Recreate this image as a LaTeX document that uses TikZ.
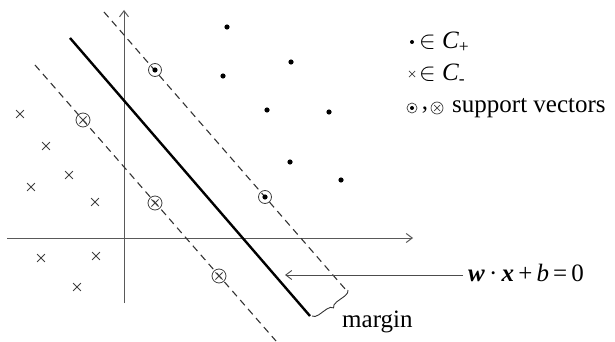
\documentclass[tikz,border=0pt]{standalone}
\usepackage{fontspec}
\setmainfont{Liberation Serif}
\usetikzlibrary{arrows.meta,shapes.misc,decorations.pathreplacing}
\begin{document}
\begin{tikzpicture}[x=1pt,y=-1pt,
  every node/.style={font=\fontsize{25}{30}\selectfont},
  dotn/.style={circle,fill=black,inner sep=0pt,minimum size=5.2pt},
  crossn/.style={cross out,draw=black!75,line width=0.8pt,inner sep=0pt,minimum size=7pt},
  svp/.style={circle,draw=black!75,line width=0.8pt,inner sep=0pt,minimum size=13pt,
     path picture={\fill[black] (path picture bounding box.center) circle (2.6pt);}},
  svm/.style={circle,draw=black!75,line width=0.8pt,inner sep=0pt,minimum size=14pt,
     path picture={\draw[black!75,line width=0.8pt]
       ([shift={(-3.6pt,-3.6pt)}]path picture bounding box.center) -- ++(7.2pt,7.2pt)
       ([shift={(-3.6pt,3.6pt)}]path picture bounding box.center) -- ++(7.2pt,-7.2pt);}},
  ldot/.style={circle,fill=black,inner sep=0pt,minimum size=4pt},
  lcross/.style={cross out,draw=black!75,line width=0.7pt,inner sep=0pt,minimum size=5.5pt},
  lsvp/.style={circle,draw=black!75,line width=0.7pt,inner sep=0pt,minimum size=10pt,
     path picture={\fill[black] (path picture bounding box.center) circle (2pt);}},
  lsvm/.style={circle,draw=black!75,line width=0.7pt,inner sep=0pt,minimum size=12pt,
     path picture={\draw[black!75,line width=0.7pt]
       ([shift={(-3pt,-3pt)}]path picture bounding box.center) -- ++(6pt,6pt)
       ([shift={(-3pt,3pt)}]path picture bounding box.center) -- ++(6pt,-6pt);}},
  axis/.style={draw=black!65,line width=1pt,-{Straight Barb[length=6pt,width=9pt]}},
  margline/.style={draw=black!80,line width=1.1pt,dash pattern=on 7pt off 5pt},
  hyper/.style={draw=black,line width=2.4pt},
  txt/.style={inner sep=0pt,anchor=west}
]
\useasboundingbox (0,0) rectangle (615,342);
% axes
\coordinate (xs) at (7,238); \coordinate (xe) at (413,238);
\coordinate (ys) at (124,303); \coordinate (ye) at (124,10);
\draw[axis] (xs) -- (xe);
\draw[axis] (ys) -- (ye);
% lines
\coordinate (h1) at (70,38); \coordinate (h2) at (310,316);
\coordinate (u1) at (104,12); \coordinate (u2) at (346,290);
\coordinate (l1) at (35,65); \coordinate (l2) at (276,341);
\draw[margline] (u1) -- (u2);
\draw[margline] (l1) -- (l2);
\draw[hyper] (h1) -- (h2);
% positive points
\node[dotn] (p1) at (227,27) {};
\node[dotn] (p2) at (291,62) {};
\node[dotn] (p3) at (223,76) {};
\node[dotn] (p4) at (267,110) {};
\node[dotn] (p5) at (329,112) {};
\node[dotn] (p6) at (290,162) {};
\node[dotn] (p7) at (341,180) {};
\node[svp] (sp1) at (155,70) {};
\node[svp] (sp2) at (265,197) {};
% negative points
\node[crossn] (n1) at (20,114) {};
\node[crossn] (n2) at (46,146) {};
\node[crossn] (n3) at (69,175) {};
\node[crossn] (n4) at (31,187) {};
\node[crossn] (n5) at (95,202) {};
\node[crossn] (n6) at (41,258) {};
\node[crossn] (n7) at (96,256) {};
\node[crossn] (n8) at (77,287) {};
\node[svm] (sm1) at (83,120) {};
\node[svm] (sm2) at (155,203) {};
\node[svm] (sm3) at (219,276) {};
% legend
\node[ldot] (ld) at (412,42) {};
\node[txt] (lt1) at (419,42) {$\in$ \textit{C}\textsubscript{+}};
\node[lcross] (lc) at (412,74) {};
\node[txt] (lt2) at (419,74) {$\in$ \textit{C}\textsubscript{-}};
\node[lsvp] (lsp) at (412,108) {};
\node[inner sep=0pt] (lcomma) at (425,110) {,};
\node[lsvm] (lsm) at (437,108) {};
\node[txt] (lt3) at (452,108) {support vectors};
% equation
\node[txt] (eq) at (468,273) {\textbf{\textit{w}}\,·\,\textbf{\textit{x}}\,+\,\textit{b}\,=\,0};
\coordinate (tip) at (285,275);
\draw[draw=black!70,line width=0.9pt,-{Straight Barb[length=6pt,width=9pt]}] (eq.west|-tip) ++(-5,0) -- (tip);
% margin brace
\coordinate (b1) at (348,290); \coordinate (b2) at (312,316);
\draw[black!80,line width=0.9pt,decorate,decoration={brace,amplitude=6pt}] (b1) -- (b2);
\node[txt] (mg) at (342,322) {margin};
\end{tikzpicture}
\end{document}
